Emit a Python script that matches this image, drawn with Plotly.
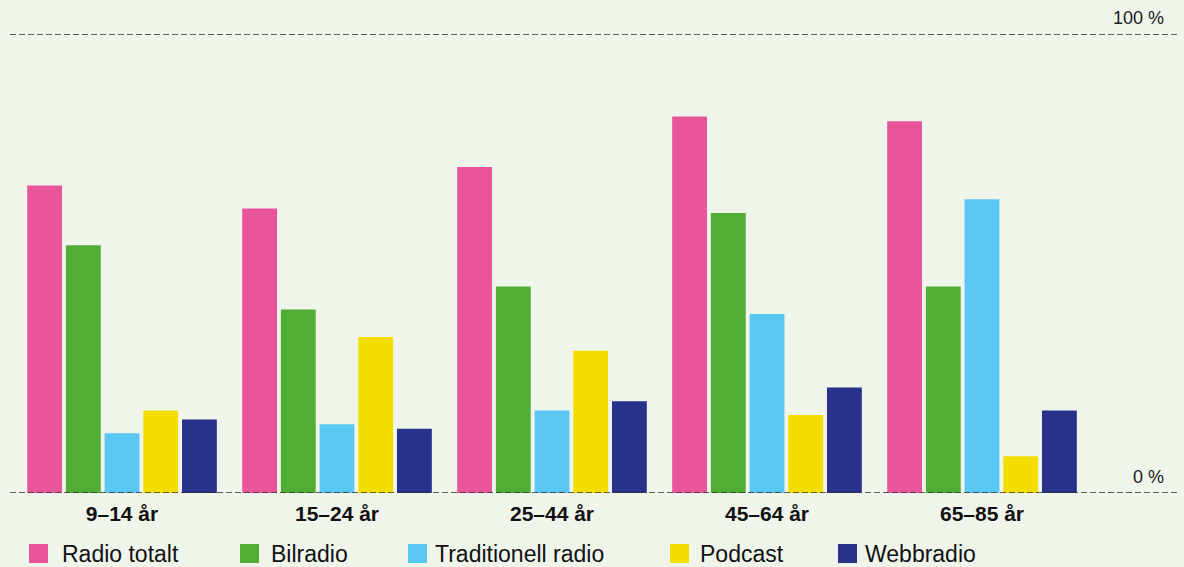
import plotly.graph_objects as go

categories = ["9–14 år", "15–24 år", "25–44 år", "45–64 år", "65–85 år"]
series_names = ["Radio totalt", "Bilradio", "Traditionell radio", "Podcast", "Webbradio"]
radio_totalt = [67, 62, 71, 82, 81]
bilradio = [54, 40, 45, 61, 45]
traditionell_radio = [13, 15, 18, 39, 64]
podcast = [18, 34, 31, 17, 8]
webbradio = [16, 14, 20, 23, 18]
series_values = [radio_totalt, bilradio, traditionell_radio, podcast, webbradio]
colors = ["#E8559A", "#52AD34", "#5BC7F3", "#F4DE00", "#28328B"]
y_ticks_labels = {0: "0 %", 100: "100 %"}

W, H = 1184, 567
L, R, T, B = 10, 7, 34, 74
PW = W - L - R
PH = H - T - B

def px(xp):
    return (xp - L) / PW

def py(yp):
    return (H - B - yp) / PH

fig = go.Figure()
for name, vals, col in zip(series_names, series_values, colors):
    fig.add_trace(go.Bar(x=categories, y=vals, name=name, marker=dict(color=col, line=dict(width=0)),
                         showlegend=False))

FONT = "Liberation Sans, Arial, Helvetica, sans-serif"
shapes = []
annotations = []
for yv, lab in y_ticks_labels.items():
    shapes.append(dict(type="line", xref="paper", yref="y", x0=0, x1=1, y0=yv, y1=yv,
                       line=dict(color="#2e2e2e", width=1.6, dash="6px,3px"), layer="above"))
    annotations.append(dict(xref="paper", yref="y", x=px(1166), y=yv, text=lab, showarrow=False,
                            xanchor="right", yanchor="bottom", yshift=4,
                            font=dict(family=FONT, size=18, color="#1a1a1a")))

# custom legend
sq_x = [29, 240, 408, 670, 838]
tx_x = [60, 269, 433, 698, 863]
for name, col, sx, tx in zip(series_names, colors, sq_x, tx_x):
    shapes.append(dict(type="rect", xref="paper", yref="paper", x0=px(sx), x1=px(sx + 19),
                       y0=py(563), y1=py(544), fillcolor=col, line=dict(width=0)))
    annotations.append(dict(xref="paper", yref="paper", x=px(tx), y=py(554), text=name, showarrow=False,
                            xanchor="left", yanchor="middle",
                            font=dict(family=FONT, size=23, color="#111111")))

fig.update_layout(
    width=W, height=H,
    margin=dict(l=L, r=R, t=T, b=B, pad=0),
    paper_bgcolor="#F0F5EC", plot_bgcolor="#F0F5EC",
    barmode="group", bargap=0.1, bargroupgap=0.1,
    shapes=shapes, annotations=annotations,
    showlegend=False,
    font=dict(family=FONT),
)
fig.update_xaxes(range=[-0.521, 4.907], showgrid=False, zeroline=False, showline=False, ticks="",
                 tickfont=dict(family=FONT, size=21, color="#111111", weight="bold"),
                 ticklabelstandoff=6)
fig.update_yaxes(range=[0, 100], showgrid=False, zeroline=False, showline=False, showticklabels=False, ticks="")

fig.write_html("out.html")
